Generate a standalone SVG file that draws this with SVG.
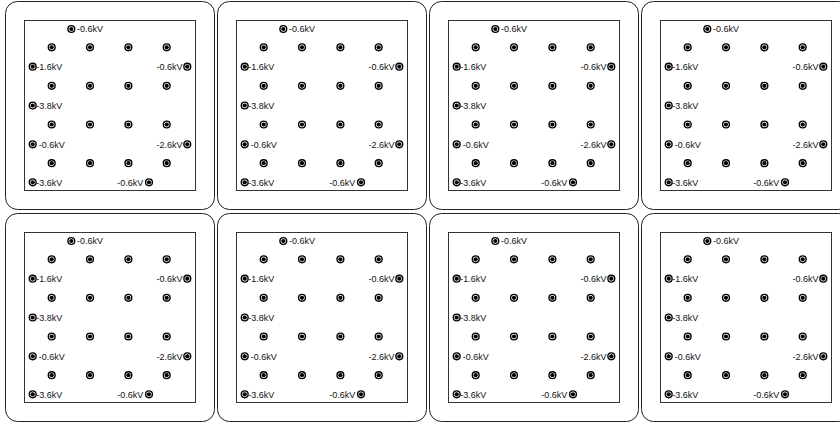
<svg xmlns="http://www.w3.org/2000/svg" xmlns:xlink="http://www.w3.org/1999/xlink" width="840" height="422" viewBox="0 0 840 422">
<style>
.outer{fill:#fff;stroke:#222;stroke-width:1}
.inner{fill:none;stroke:#333;stroke-width:1}
.t{font-family:"Liberation Sans",Arial,sans-serif;font-size:9px;fill:#111}
.r{text-anchor:end}
</style>
<defs>
<g id="d"><circle r="3.4" fill="#fff" stroke="#000" stroke-width="1.4"/><circle r="2.1" fill="#000"/></g>
<g id="panel">
<rect class="outer" x="5.5" y="1.5" width="209" height="208" rx="12"/>
<rect class="inner" x="24.5" y="20.5" width="171" height="170"/>
<use xlink:href="#d" x="71.3" y="29"/><text class="t" x="77" y="32.2">-0.6kV</text>
<use xlink:href="#d" x="51.7" y="47.3"/><use xlink:href="#d" x="90" y="47.3"/><use xlink:href="#d" x="128.4" y="47.3"/><use xlink:href="#d" x="166.7" y="47.3"/>
<use xlink:href="#d" x="32.7" y="66.7"/><text class="t" x="36.3" y="69.9">-1.6kV</text>
<use xlink:href="#d" x="187.3" y="66.7"/><text class="t r" x="182.5" y="69.9">-0.6kV</text>
<use xlink:href="#d" x="51.7" y="85.8"/><use xlink:href="#d" x="90" y="85.8"/><use xlink:href="#d" x="128.4" y="85.8"/><use xlink:href="#d" x="166.7" y="85.8"/>
<use xlink:href="#d" x="32.7" y="105.5"/><text class="t" x="36.3" y="108.7">-3.8kV</text>
<use xlink:href="#d" x="51.7" y="124.5"/><use xlink:href="#d" x="90" y="124.5"/><use xlink:href="#d" x="128.4" y="124.5"/><use xlink:href="#d" x="166.7" y="124.5"/>
<use xlink:href="#d" x="32.7" y="144.3"/><text class="t" x="38.8" y="147.5">-0.6kV</text>
<use xlink:href="#d" x="187.3" y="144.3"/><text class="t r" x="182.5" y="147.5">-2.6kV</text>
<use xlink:href="#d" x="51.7" y="163.2"/><use xlink:href="#d" x="90" y="163.2"/><use xlink:href="#d" x="128.4" y="163.2"/><use xlink:href="#d" x="166.7" y="163.2"/>
<use xlink:href="#d" x="32.7" y="182.3"/><text class="t" x="36.3" y="185.5">-3.6kV</text>
<use xlink:href="#d" x="149" y="182.3"/><text class="t r" x="143.2" y="185.5">-0.6kV</text>
</g>
</defs>
<rect width="840" height="422" fill="#fff"/>
<g id="panel-1-1"><use xlink:href="#panel" x="0" y="0"/></g>
<g id="panel-1-2"><use xlink:href="#panel" x="212" y="0"/></g>
<g id="panel-1-3"><use xlink:href="#panel" x="424" y="0"/></g>
<g id="panel-1-4"><use xlink:href="#panel" x="636" y="0"/></g>
<g id="panel-2-1"><use xlink:href="#panel" x="0" y="212"/></g>
<g id="panel-2-2"><use xlink:href="#panel" x="212" y="212"/></g>
<g id="panel-2-3"><use xlink:href="#panel" x="424" y="212"/></g>
<g id="panel-2-4"><use xlink:href="#panel" x="636" y="212"/></g>
<g id="connectors"/>
</svg>
